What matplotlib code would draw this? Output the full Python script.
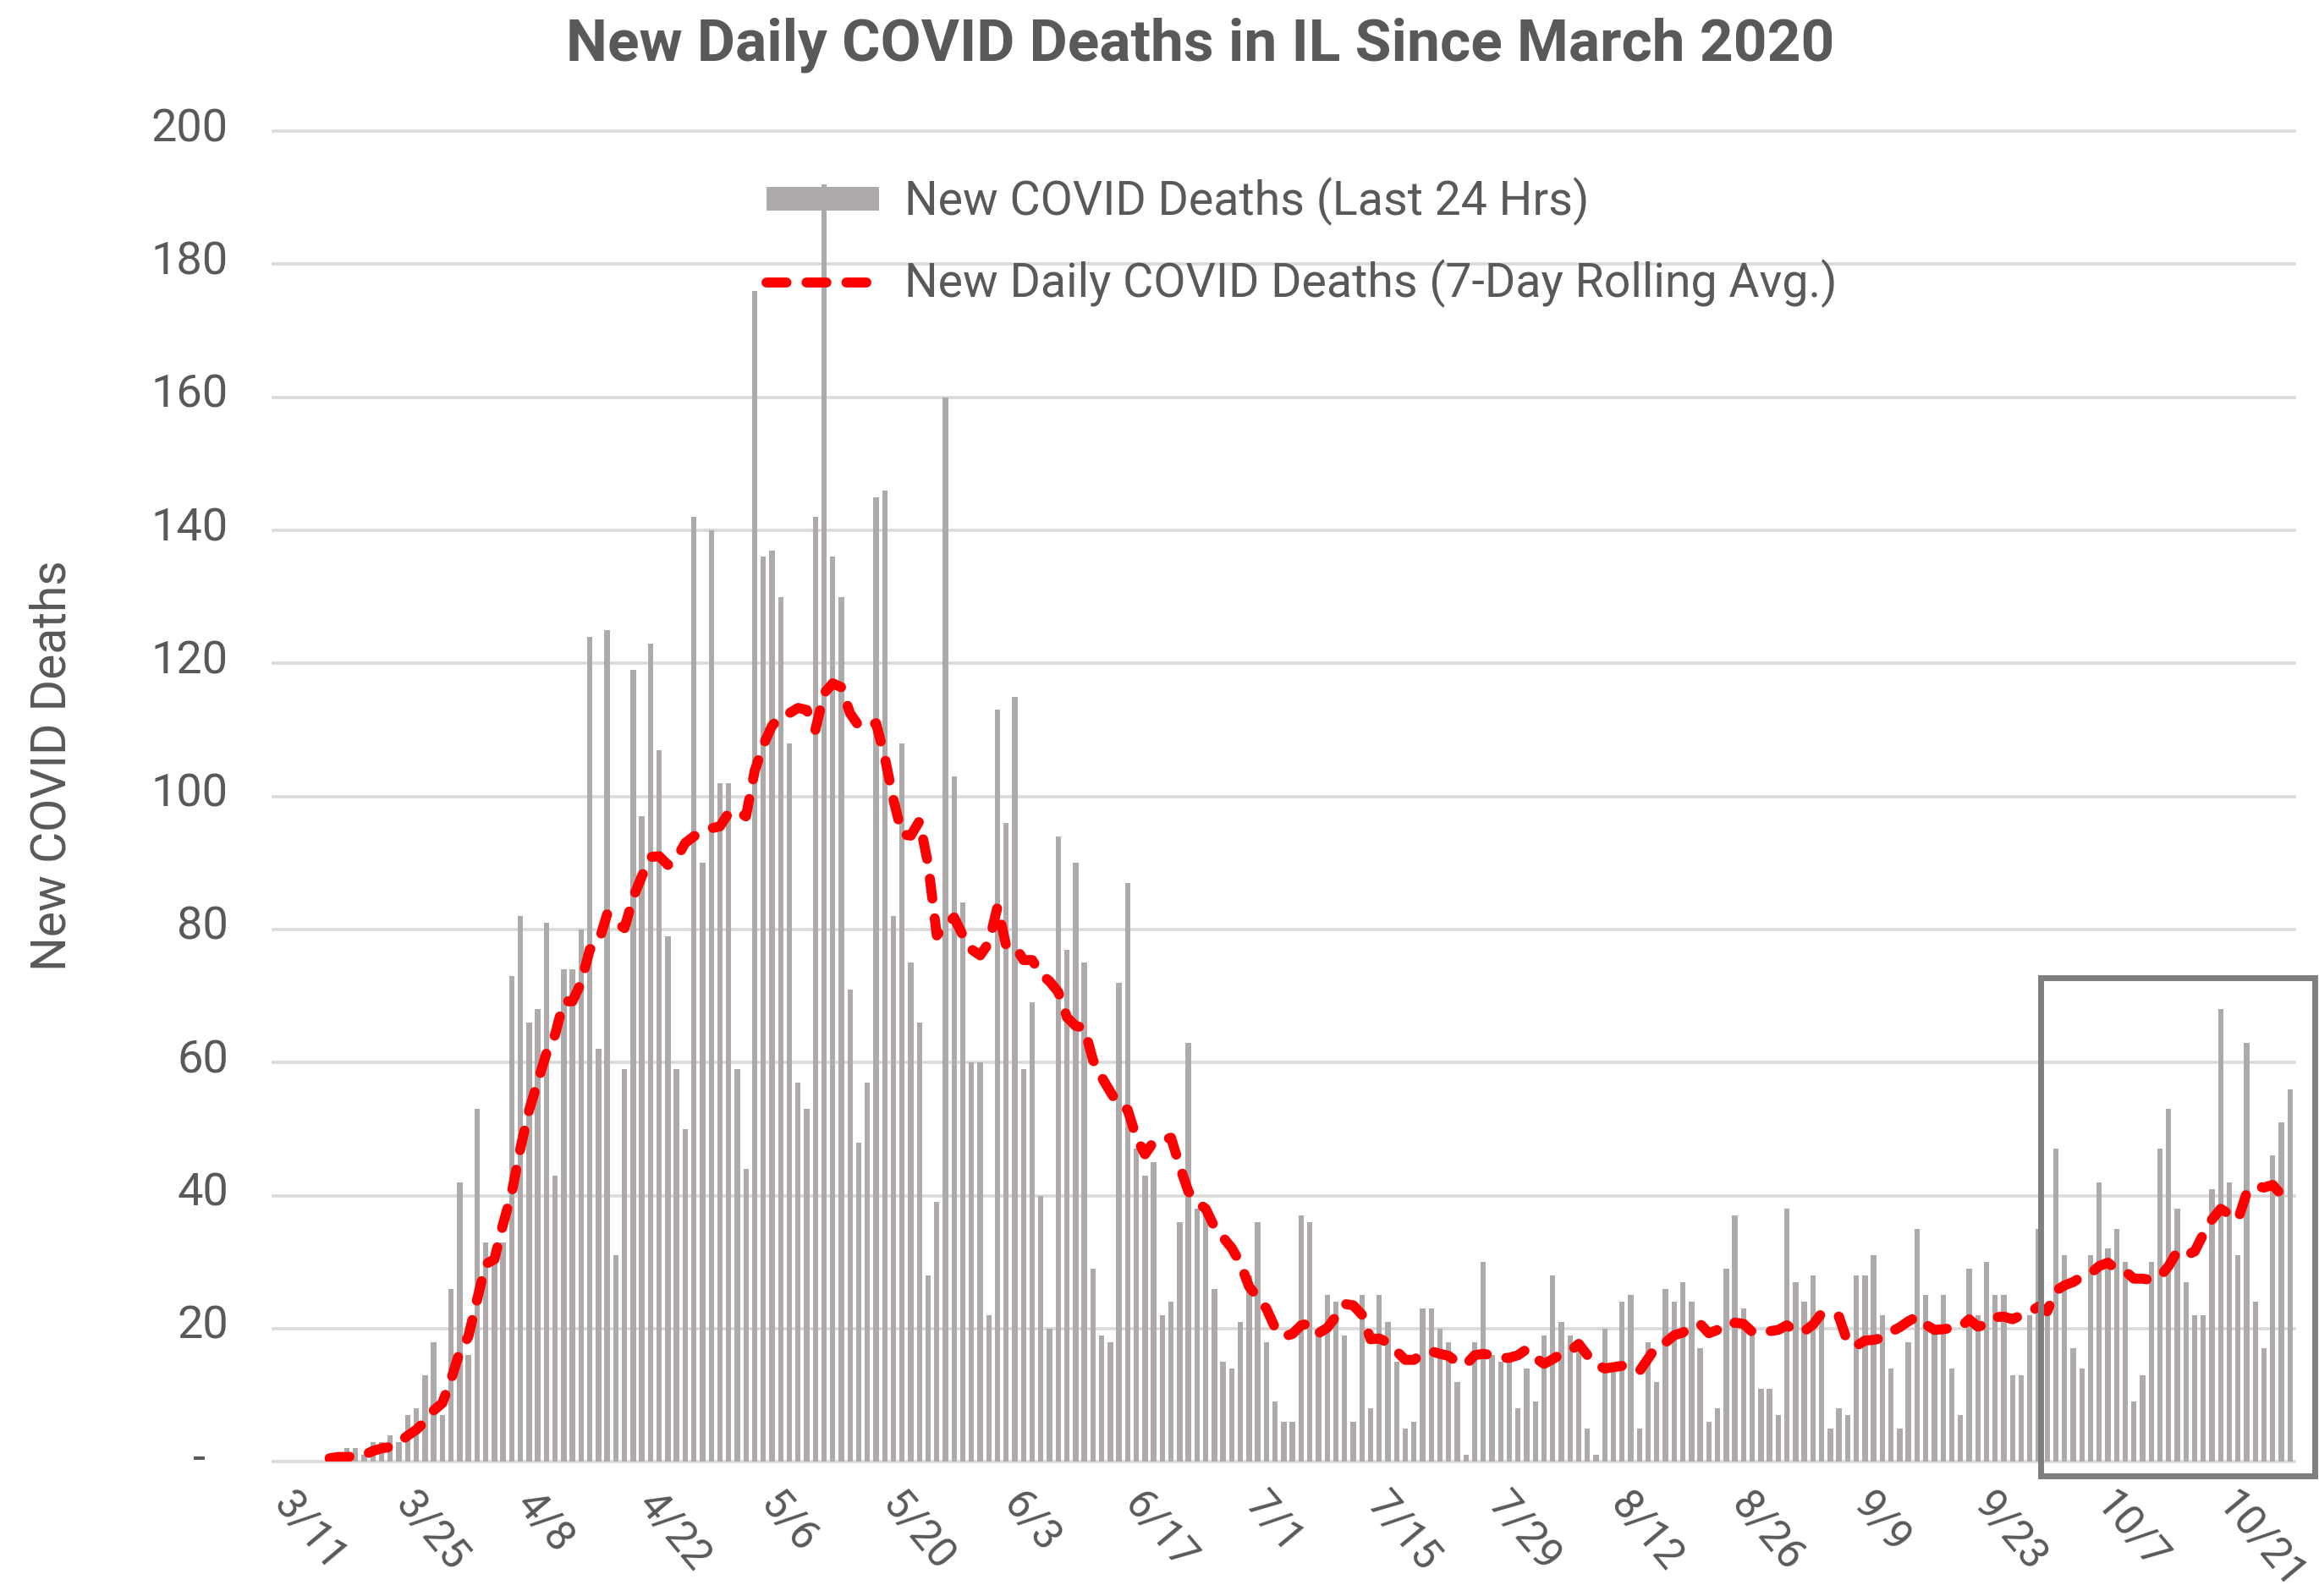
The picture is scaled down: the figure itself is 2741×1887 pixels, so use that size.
import matplotlib
matplotlib.use("Agg")
import matplotlib.pyplot as plt
from matplotlib.patches import Rectangle
from matplotlib.transforms import ScaledTranslation
import numpy as np
import pandas as pd

# one bar per day, 3/11/2020 .. 10/29/2020
dates = pd.date_range("2020-03-11", "2020-10-29", freq="D")

daily_deaths = [
    0, 0, 0, 0, 0, 0, 1, 0, 2, 2, 1, 3, 3, 4,                     # 3/11
    3, 7, 8, 13, 18, 7, 26, 42, 16, 53, 33, 31, 33, 73,          # 3/25
    82, 66, 68, 81, 43, 74, 74, 80, 124, 62, 125, 31, 59, 119,   # 4/8
    97, 123, 107, 79, 59, 50, 142, 90, 140, 102, 102, 59, 44, 176,  # 4/22
    136, 137, 130, 108, 57, 53, 142, 192, 136, 130, 71, 48, 57, 145,  # 5/6
    146, 82, 108, 75, 66, 28, 39, 160, 103, 84, 60, 60, 22, 113,  # 5/20
    96, 115, 59, 69, 40, 20, 94, 77, 90, 75, 29, 19, 18, 72,     # 6/3
    87, 47, 43, 45, 22, 24, 36, 63, 38, 37, 26, 15, 14, 21,      # 6/17
    28, 36, 18, 9, 6, 6, 37, 36, 19, 25, 24, 19, 6, 25,          # 7/1
    8, 25, 21, 15, 5, 6, 23, 23, 20, 18, 12, 1, 18, 30,          # 7/15
    16, 15, 15, 8, 14, 9, 19, 28, 21, 19, 17, 5, 1, 20,          # 7/29
    14, 24, 25, 5, 18, 12, 26, 24, 27, 24, 17, 6, 8, 29,         # 8/12
    37, 23, 20, 11, 11, 7, 38, 27, 24, 28, 22, 5, 8, 7,          # 8/26
    28, 28, 31, 22, 14, 5, 18, 35, 25, 20, 25, 14, 7, 29,        # 9/9
    22, 30, 25, 25, 13, 13, 22, 35, 23, 47, 31, 17, 14, 31,      # 9/23
    42, 32, 35, 30, 9, 13, 30, 47, 53, 38, 27, 22, 22, 41,       # 10/7
    68, 42, 31, 63, 24, 17, 46, 51, 56,                          # 10/21
]

# 7-day rolling average as drawn, starting 3/17
avg_start = 6
rolling_avg = [
    0.5, 0.7, 0.7, 0.8, 1.0, 1.6, 2.0, 2.2,
    2.9, 3.9, 4.8, 6.0, 7.7, 8.8, 12.3, 16.5, 18.8, 24.3, 29.7, 30.4, 35.7, 40.4,
    47.1, 52.8, 57.1, 61.4, 64.2, 69.2, 69.2, 72.0, 77.0, 78.0, 82.3, 81.0, 80.2, 84.8,
    88.0, 90.9, 91.0, 89.7, 90.7, 93.0, 94.0, 94.6, 95.2, 95.5, 97.5, 97.8, 97.0, 103.8,
    107.7, 110.6, 112.0, 112.5, 113.3, 113.0, 110.0, 115.5, 117.0, 116.4, 112.5, 110.6, 110.5, 111.0,
    105.9, 99.5, 94.3, 94.1, 96.3, 89.8, 79.1, 80.7, 81.8, 79.1, 77.0, 76.1, 78.0, 83.4,
    77.5, 77.5, 75.4, 75.4, 73.3, 72.2, 70.6, 66.8, 65.5, 65.2, 60.4, 57.8, 55.6, 53.5,
    52.9, 48.7, 46.2, 48.1, 48.3, 48.7, 44.4, 40.6, 39.0, 38.0, 35.3, 33.7, 32.1, 29.8,
    26.3, 24.7, 23.0, 20.1, 18.8, 19.2, 20.5, 20.8, 19.3, 20.1, 21.8, 23.7, 23.5, 22.1,
    18.4, 18.5, 17.9, 16.6, 15.3, 15.3, 16.2, 16.6, 16.2, 15.9, 14.9, 14.6, 16.0, 16.2,
    16.0, 15.6, 15.6, 16.0, 16.9, 15.6, 14.7, 15.4, 16.2, 16.6, 17.7, 16.0, 14.6, 14.0,
    14.2, 14.4, 13.9, 13.6, 15.5, 17.4, 17.9, 19.0, 19.4, 20.3, 20.7, 19.3, 19.8, 19.8,
    20.9, 20.7, 19.5, 19.3, 19.6, 19.8, 20.5, 19.5, 19.6, 20.6, 22.3, 21.9, 21.8, 17.9,
    17.4, 18.2, 18.3, 18.6, 19.5, 20.2, 21.1, 21.8, 20.6, 19.8, 19.9, 20.1, 20.2, 21.4,
    20.3, 20.6, 21.7, 21.8, 21.4, 22.0, 22.5, 23.3, 22.6, 25.7, 26.5, 27.0, 27.8, 28.3,
    29.4, 29.9, 28.9, 28.6, 27.5, 27.5, 27.3, 27.8, 29.4, 31.6, 31.0, 31.6, 34.2, 36.4,
    38.0, 37.2, 36.4, 40.4, 41.4, 41.2, 41.6, 40.1, 39.2,
]

tick_labels = ["3/11", "3/25", "4/8", "4/22", "5/6", "5/20", "6/3", "6/17",
               "7/1", "7/15", "7/29", "8/12", "8/26", "9/9", "9/23", "10/7", "10/21"]
y_ticks = [0, 20, 40, 60, 80, 100, 120, 140, 160, 180, 200]
y_labels = ["-  "] + [str(v) for v in y_ticks[1:]]

TXT = "#595959"
plt.rcParams["font.family"] = ["Roboto", "DejaVu Sans"]

fig = plt.figure(figsize=(27.41, 18.87), dpi=100)
ax = fig.add_axes([0.1178, 0.0842, 0.8716, 0.8336])

x = np.arange(len(dates))
bars = ax.bar(x, daily_deaths, width=0.62, color="#aeaaaa", zorder=2,
              label="New COVID Deaths (Last 24 Hrs)")
line, = ax.plot(np.arange(avg_start, avg_start + len(rolling_avg)), rolling_avg,
                color="#ff0000", lw=8.5, linestyle=(0, (2.0, 2.0)),
                dash_capstyle="round", zorder=3,
                label="New Daily COVID Deaths (7-Day Rolling Avg.)")

ax.set_xlim(-0.5, len(dates) - 0.5)
ax.set_ylim(0, 200)
ax.set_yticks(y_ticks)
ax.set_yticklabels(y_labels)
ax.set_xticks(x[::14])
ax.set_xticklabels(tick_labels, rotation=-50, ha="left", va="top",
                   rotation_mode="anchor")
ax.tick_params(axis="y", length=0, pad=38, labelsize=39, labelcolor=TXT)
ax.tick_params(axis="x", length=0, pad=19, labelsize=36, labelcolor=TXT)
# slide the slanted date labels so they start right at their day
shift_x = ScaledTranslation(0.23, 0, fig.dpi_scale_trans)
for lbl in ax.get_xticklabels():
    lbl.set_transform(lbl.get_transform() + shift_x)
# value labels sit a little above their gridline
shift_y = ScaledTranslation(0, 0.08, fig.dpi_scale_trans)
for lbl in ax.get_yticklabels():
    lbl.set_transform(lbl.get_transform() + shift_y)

ax.yaxis.grid(True, color="#d9d9d9", lw=2.6, zorder=0)
for gl in ax.get_ygridlines():
    gl.set_clip_on(False)
ax.set_axisbelow(True)
for s in ax.spines.values():
    s.set_visible(False)

fig.text(0.5175, 0.972, "New Daily COVID Deaths in IL Since March 2020",
         ha="center", va="center", fontsize=50, fontweight="bold", color=TXT)
fig.text(0.0225, 0.5204, "New COVID Deaths", rotation=90, ha="center",
         va="center", fontsize=41, color=TXT)

ax.legend(handles=[bars, line], loc="upper left",
          bbox_to_anchor=(0.3203, 0.9035), bbox_transform=fig.transFigure,
          frameon=False, fontsize=40, labelcolor=TXT, borderpad=0,
          handlelength=2.4, handleheight=0.41, handletextpad=0.54,
          labelspacing=0.7)

# highlight box around recent weeks
fig.add_artist(Rectangle((0.880, 0.0753), 0.118, 0.312, transform=fig.transFigure,
                         fill=False, ec="#7f7f7f", lw=5))

fig.savefig("out.png", dpi=100)
